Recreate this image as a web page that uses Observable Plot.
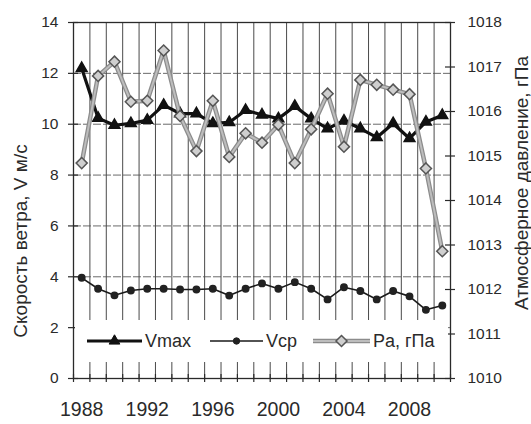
<!DOCTYPE html>
<html>
<head>
<meta charset="utf-8">
<script src="https://cdn.jsdelivr.net/npm/d3@7"></script>
<script src="https://cdn.jsdelivr.net/npm/@observablehq/plot@0.6"></script>
<style>
  body { margin: 0; background: #fff; }
  #chart { width: 531px; height: 424px; }
</style>
</head>
<body>
<div id="chart"></div>
<script>
// Annual wind speed (m/s) and atmospheric pressure (hPa), 1988–2010
const years = d3.range(1988, 2011);
const vmax = [12.2, 10.24, 9.96, 10.03, 10.16, 10.75, 10.42, 10.42, 10.03, 10.07, 10.55, 10.37,
              10.22, 10.71, 10.22, 9.83, 10.13, 9.83, 9.48, 10.03, 9.44, 10.09, 10.35];
const vcp  = [3.96, 3.53, 3.27, 3.46, 3.53, 3.53, 3.5, 3.5, 3.53, 3.26, 3.53, 3.74,
              3.53, 3.79, 3.53, 3.11, 3.59, 3.44, 3.11, 3.44, 3.23, 2.7, 2.87];
const pa   = [1014.84, 1016.8, 1017.12, 1016.22, 1016.24, 1017.37, 1015.9, 1015.11, 1016.24, 1014.98, 1015.51, 1015.3,
              1015.7, 1014.84, 1015.6, 1016.4, 1015.21, 1016.71, 1016.6, 1016.49, 1016.39, 1014.72, 1012.86];

const leftTicks = [0, 2, 4, 6, 8, 10, 12, 14];
const rightTicks = [1010, 1011, 1012, 1013, 1014, 1015, 1016, 1017, 1018];
const xTickLabels = [1988, 1992, 1996, 2000, 2004, 2008];

const seriesNames = ["Vmax", "Vcp", "Pa, гПа"];
const leftTitle = "Скорость ветра, V м/с";
const rightTitle = "Атмосферное давление, гПа";

// pressure is drawn on the wind-speed scale: 1010..1018 hPa <-> 0..14 m/s
const V0 = 0, V1 = 14, P0 = 1010, P1 = 1018;
const toLeft = p => V0 + (p - P0) * (V1 - V0) / (P1 - P0);
const toPa = v => P0 + (v - V0) * (P1 - P0) / (V1 - V0);

const rows = years.map((year, i) => ({year, vmax: vmax[i], vcp: vcp[i], pa: pa[i], paLeft: toLeft(pa[i])}));

// year categories: boundaries sit half a year either side of each point
const xMin = years[0] - 0.5, xMax = years[years.length - 1] + 0.5;
const bounds = d3.range(years.length + 1).map(i => xMin + i);
const innerBounds = bounds.slice(1, -1);
const gridLeft = leftTicks.slice(1, -1);

const font = "'Liberation Sans', Arial, Helvetica, sans-serif";
const ink = "#2a2a2a";

const chart = Plot.plot({
  width: 531,
  height: 424,
  marginLeft: 73,
  marginRight: 81,
  marginTop: 22,
  marginBottom: 46,
  style: {fontFamily: font, background: "#fff", color: ink, overflow: "visible"},
  x: {type: "linear", domain: [xMin, xMax], label: null},
  y: {domain: [V0, V1], label: null},
  marks: [
    Plot.ruleY(gridLeft, {stroke: "#6a6a6a", strokeWidth: 1, strokeDasharray: "8,2"}),
    Plot.ruleX(innerBounds, {stroke: "#4a4a4a", strokeWidth: 1}),
    Plot.frame({stroke: ink, strokeWidth: 1.3}),
    // tick marks crossing the axis lines
    Plot.ruleX(bounds, {y1: V0, y2: V0, insetTop: -4, insetBottom: -4, stroke: ink, strokeWidth: 1.2}),
    Plot.ruleY(leftTicks, {x1: xMin, x2: xMin, insetLeft: -5, insetRight: -5, stroke: ink, strokeWidth: 1.2}),
    Plot.ruleY(rightTicks.map(toLeft), {x1: xMax, x2: xMax, insetLeft: -5, insetRight: -5, stroke: ink, strokeWidth: 1.2}),
    Plot.axisX(xTickLabels, {tickSize: 0, tickPadding: 24, fontSize: 19.5, label: null, tickFormat: d => String(d)}),
    Plot.axisY(leftTicks, {anchor: "left", tickSize: 0, tickPadding: 15, fontSize: 15.5, label: null}),
    Plot.axisY(rightTicks.map(toLeft), {anchor: "right", tickSize: 0, tickPadding: 17, fontSize: 15.5, label: null,
      tickFormat: v => String(Math.round(toPa(v)))}),
    // Vcp
    Plot.line(rows, {x: "year", y: "vcp", stroke: "#1a1a1a", strokeWidth: 1.6}),
    Plot.dot(rows, {x: "year", y: "vcp", r: 3.2, fill: "#222", stroke: "#222"}),
    // Vmax
    Plot.line(rows, {x: "year", y: "vmax", stroke: "#111", strokeWidth: 3.2}),
    Plot.dot(rows, {x: "year", y: "vmax", symbol: "triangle", r: 4, fill: "#111", stroke: "#111"}),
    // Pa
    Plot.line(rows, {x: "year", y: "paLeft", stroke: "#8c8c8c", strokeWidth: 4.5}),
    Plot.line(rows, {x: "year", y: "paLeft", stroke: "#bdbdbd", strokeWidth: 2}),
    Plot.dot(rows, {x: "year", y: "paLeft", symbol: "diamond2", r: 5, fill: "#cfcfcf", stroke: "#555", strokeWidth: 1.5})
  ]
});

const svg = d3.select(chart);

// legend inside the bottom of the plot area, over the grid
const legend = svg.append("g").attr("text-anchor", "start");
legend.append("rect")
  .attr("x", 75).attr("y", 320).attr("width", 373).attr("height", 42)
  .style("fill", "#ffffff").style("stroke", "none");
const ly = 341;
const items = [
  {name: seriesNames[0], x1: 87, x2: 142, stroke: "#111", width: 3.2, symbol: d3.symbolTriangle, size: 50, fill: "#111", mstroke: "#111"},
  {name: seriesNames[1], x1: 210, x2: 263, stroke: "#1a1a1a", width: 1.6, symbol: d3.symbolCircle, size: 32, fill: "#222", mstroke: "#222"},
  {name: seriesNames[2], x1: 313, x2: 370, stroke: "#8c8c8c", width: 4.5, inner: "#bdbdbd", symbol: d3.symbolDiamond2, size: 78, fill: "#cfcfcf", mstroke: "#555"}
];
for (const it of items) {
  legend.append("line").attr("x1", it.x1).attr("x2", it.x2).attr("y1", ly).attr("y2", ly)
    .attr("stroke", it.stroke).attr("stroke-width", it.width);
  if (it.inner) legend.append("line").attr("x1", it.x1).attr("x2", it.x2).attr("y1", ly).attr("y2", ly)
    .attr("stroke", it.inner).attr("stroke-width", 2);
  legend.append("path").attr("d", d3.symbol(it.symbol, it.size)())
    .attr("transform", `translate(${(it.x1 + it.x2) / 2},${ly})`)
    .attr("fill", it.fill).attr("stroke", it.mstroke).attr("stroke-width", it.symbol === d3.symbolDiamond2 ? 1.5 : 1);
  legend.append("text").attr("x", it.x2 + 3).attr("y", ly).attr("dy", "0.36em")
    .attr("text-anchor", "start").attr("font-size", 18).attr("fill", ink).text(it.name);
}

// axis titles
svg.append("text")
  .attr("transform", "translate(20,241) rotate(-90)")
  .attr("text-anchor", "middle").attr("dy", "0.36em")
  .attr("font-size", 19).attr("fill", ink).text(leftTitle);
svg.append("text")
  .attr("transform", "translate(521,183) rotate(-90)")
  .attr("text-anchor", "middle").attr("dy", "0.36em")
  .attr("font-size", 19).attr("fill", ink).text(rightTitle);

document.getElementById("chart").append(chart);
</script>
</body>
</html>
